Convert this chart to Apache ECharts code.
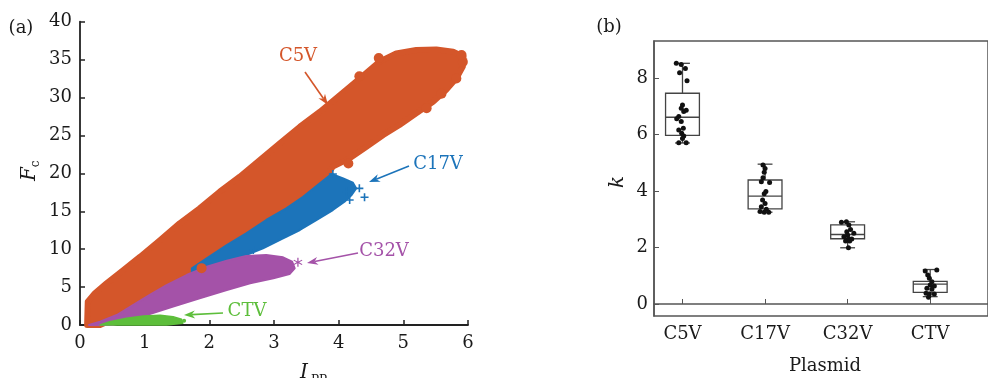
<!DOCTYPE html>
<html>
<head>
<meta charset="utf-8">
<script src="https://cdn.jsdelivr.net/npm/echarts@6/dist/echarts.min.js"></script>
<style>
  html, body { margin: 0; padding: 0; background: #fff; }
  #chart { width: 988px; height: 378px; }
</style>
</head>
<body>
<div id="chart"></div>
<script>
// ---- panel (a): outlines of the point clouds (I_PP, F_c)
const c5vX = [0.11, 0.12, 0.23, 0.41, 0.67, 0.93, 1.24, 1.54, 1.85, 2.16, 2.47, 2.78, 3.09, 3.40, 3.71, 4.02, 4.33, 4.63, 4.89, 5.20, 5.51, 5.77, 5.93, 5.92, 5.82, 5.66, 5.46, 5.20, 4.94, 4.69, 4.43, 4.17, 3.91, 3.71, 3.40, 2.88, 2.37, 1.96, 1.65, 1.34, 1.03, 0.72, 0.46, 0.31];
const c5vY = [0, 3.08, 4.18, 5.49, 7.25, 9.01, 11.21, 13.41, 15.38, 17.58, 19.56, 21.76, 23.96, 26.15, 28.13, 30.33, 32.53, 34.73, 35.82, 36.26, 36.35, 36.04, 35.38, 34.07, 32.53, 30.99, 29.45, 27.91, 26.37, 25.05, 23.52, 21.98, 20.88, 18.3, 16.3, 13.2, 10.2, 8.2, 6.4, 4.8, 3.30, 1.76, 0.57, 0];
const c5vOutX = [4.32, 4.15, 5.36, 5.59, 5.82, 5.92, 5.90, 1.88, 4.62];
const c5vOutY = [32.8, 21.3, 28.6, 30.5, 32.5, 34.7, 35.6, 7.5, 35.2];

const c17vX = [1.73, 1.96, 2.27, 2.57, 2.88, 3.19, 3.45, 3.71, 3.89, 4.07, 4.22, 4.27, 4.20, 4.09, 3.91, 3.66, 3.40, 3.14, 2.83, 2.57, 2.27, 1.96, 1.73];
const c17vY = [7.47, 8.79, 10.55, 12.09, 13.85, 15.38, 16.92, 18.68, 19.91, 19.34, 18.77, 18.02, 17.14, 16.26, 15.16, 13.85, 12.53, 11.43, 10.11, 9.23, 8.13, 7.03, 6.37];
const c17vOutX = [4.32, 4.40, 4.17, 3.91, 4.12, 2.68];
const c17vOutY = [18.02, 16.84, 16.48, 19.91, 17.58, 9.89];

const c32vX = [0.14, 0.31, 0.57, 0.82, 1.08, 1.34, 1.65, 1.96, 2.27, 2.57, 2.88, 3.14, 3.28, 3.32, 3.24, 2.99, 2.63, 2.27, 1.85, 1.44, 1.03, 0.72, 0.51];
const c32vY = [0, 0.44, 1.32, 2.64, 3.96, 5.27, 6.59, 7.69, 8.48, 9.10, 9.23, 8.92, 8.35, 7.47, 6.73, 6.15, 5.49, 4.62, 3.52, 2.42, 1.32, 0.44, 0];
const c32vOutX = [3.37];
const c32vOutY = [8.26];

const ctvX = [0.31, 0.46, 0.72, 0.98, 1.24, 1.44, 1.57, 1.59, 1.34];
const ctvY = [0, 0.44, 0.88, 1.19, 1.27, 1.10, 0.75, 0.22, 0];
const ctvOutX = [1.61];
const ctvOutY = [0.57];

// ---- panel (b): box statistics per plasmid [min, q1, median, q3, max]
const plasmids = ['C5V', 'C17V', 'C32V', 'CTV'];
const boxStats = [
  [5.70, 5.97, 6.61, 7.46, 8.52],
  [3.25, 3.37, 3.82, 4.39, 4.95],
  [1.99, 2.31, 2.46, 2.80, 2.91],
  [0.26, 0.41, 0.70, 0.80, 1.22]
];
// individual k values and their horizontal jitter (category units)
const kC5V = [8.52, 8.48, 8.34, 8.19, 7.90, 7.04, 6.93, 6.86, 6.81, 6.64, 6.56, 6.46, 6.22, 6.16, 6.04, 5.95, 5.86, 5.71, 5.71];
const jC5V = [-0.075, -0.015, 0.035, -0.035, 0.055, 0.0, -0.015, 0.045, 0.015, -0.045, -0.07, -0.015, 0.01, -0.045, -0.01, 0.015, 0.0, -0.045, 0.045];
const kC17V = [4.92, 4.80, 4.66, 4.47, 4.33, 4.30, 3.98, 3.90, 3.68, 3.56, 3.44, 3.35, 3.25, 3.25, 3.27];
const jC17V = [-0.025, 0.0, -0.01, -0.025, -0.045, 0.055, 0.01, -0.01, -0.03, 0.0, -0.045, 0.015, -0.01, 0.045, -0.06];
const kC32V = [2.89, 2.91, 2.80, 2.64, 2.56, 2.50, 2.44, 2.38, 2.32, 2.30, 2.23, 2.23, 1.99];
const jC32V = [-0.075, -0.015, 0.015, 0.035, -0.01, 0.075, 0.0, -0.045, 0.01, 0.05, -0.025, 0.025, 0.01];
const kCTV = [1.17, 1.20, 1.03, 0.91, 0.79, 0.67, 0.64, 0.56, 0.52, 0.38, 0.35, 0.35, 0.24];
const jCTV = [-0.06, 0.08, -0.03, -0.01, 0.02, 0.0, 0.05, -0.04, 0.02, -0.05, -0.01, 0.05, -0.02];

// colours
const ORANGE = '#D4562A';
const BLUE = '#1C74BA';
const PURPLE = '#A452A8';
const GREEN = '#5DBE3B';
const INK = '#1a1a1a';
const FONT = "'DejaVu Serif', serif";

const zip = (xs, ys) => xs.map((x, i) => [x, ys[i]]);

// filled outline of one point cloud; the thick round stroke gives the fuzzy edge
function cloud(xs, ys, color, edge) {
  return {
    type: 'custom',
    xAxisIndex: 0,
    yAxisIndex: 0,
    silent: true,
    data: zip(xs, ys),
    encode: { x: 0, y: 1 },
    renderItem: (params, api) => {
      if (params.dataIndex !== 0) return null;
      return {
        type: 'polygon',
        shape: { points: xs.map((x, i) => api.coord([x, ys[i]])) },
        style: { fill: color, stroke: color, lineWidth: edge, lineJoin: 'round' }
      };
    }
  };
}

function marks(xs, ys, color, symbol, size) {
  return {
    type: 'scatter',
    xAxisIndex: 0,
    yAxisIndex: 0,
    silent: true,
    symbol: symbol,
    symbolSize: size,
    itemStyle: { color: color, opacity: 1 },
    data: zip(xs, ys)
  };
}

const PLUS = 'path://M4,0h2v4h4v2h-4v4h-2v-4h-4v-2h4z';
const STAR = 'path://M4.4,0h1.2v3.6l3.1-1.8l0.6,1l-3.1,1.8l3.1,1.8l-0.6,1l-3.1,-1.8v3.6h-1.2v-3.6l-3.1,1.8l-0.6,-1l3.1,-1.8l-3.1,-1.8l0.6,-1l3.1,1.8z';

function arrow(x1, y1, x2, y2, color) {
  const a = Math.atan2(y2 - y1, x2 - x1);
  const L = 11, W = 4;
  const bx = x2 - L * Math.cos(a), by = y2 - L * Math.sin(a);
  const mx = x2 - 0.7 * L * Math.cos(a), my = y2 - 0.7 * L * Math.sin(a);
  return [
    { type: 'line', silent: true, shape: { x1: x1, y1: y1, x2: mx, y2: my }, style: { stroke: color, lineWidth: 1.6 } },
    { type: 'polygon', silent: true, shape: { points: [[x2, y2], [bx + W * Math.sin(a), by - W * Math.cos(a)], [mx, my], [bx - W * Math.sin(a), by + W * Math.cos(a)]] }, style: { fill: color } }
  ];
}

function label(text, x, y, color, extra) {
  return Object.assign({
    type: 'text', x: x, y: y, silent: true,
    style: { text: text, fill: color, font: '18px ' + FONT, align: 'center', verticalAlign: 'middle' }
  }, extra || {});
}

const boxSeries = {
  type: 'custom',
  xAxisIndex: 1,
  yAxisIndex: 1,
  silent: true,
  data: boxStats.map((s, i) => [i + 1].concat(s)),
  encode: { x: 0, y: [1, 2, 3, 4, 5] },
  renderItem: (params, api) => {
    const x = api.value(0);
    const hw = api.size([0.41, 0])[0] / 2;
    const cw = api.size([0.18, 0])[0] / 2;
    const p = [1, 2, 3, 4, 5].map(k => api.coord([x, api.value(k)]));
    const cx = p[0][0];
    const st = { stroke: '#444', lineWidth: 1.3, fill: null };
    return {
      type: 'group',
      children: [
        { type: 'line', shape: { x1: cx, y1: p[0][1], x2: cx, y2: p[1][1] }, style: st },
        { type: 'line', shape: { x1: cx, y1: p[3][1], x2: cx, y2: p[4][1] }, style: st },
        { type: 'line', shape: { x1: cx - cw, y1: p[0][1], x2: cx + cw, y2: p[0][1] }, style: st },
        { type: 'line', shape: { x1: cx - cw, y1: p[4][1], x2: cx + cw, y2: p[4][1] }, style: st },
        { type: 'rect', shape: { x: cx - hw, y: p[3][1], width: 2 * hw, height: p[1][1] - p[3][1] }, style: st },
        { type: 'line', shape: { x1: cx - hw, y1: p[2][1], x2: cx + hw, y2: p[2][1] }, style: st }
      ]
    };
  }
};

const kPoints = [];
[[kC5V, jC5V], [kC17V, jC17V], [kC32V, jC32V], [kCTV, jCTV]].forEach((g, i) => {
  g[0].forEach((k, j) => kPoints.push([i + 1 + g[1][j], k]));
});

const axisText = { fontSize: 18, fontFamily: FONT, color: INK };

const chart = echarts.init(document.getElementById('chart'), null, { renderer: 'canvas' });

chart.setOption({
  animation: false,
  backgroundColor: '#fff',
  grid: [
    { left: 80, right: 520, top: 21.7, bottom: 53 },
    { left: 654, right: -6, top: 41, bottom: 62, show: true, borderColor: '#555', borderWidth: 1.5, backgroundColor: 'transparent' }
  ],
  xAxis: [
    {
      gridIndex: 0, type: 'value', min: 0, max: 6, interval: 1,
      axisLine: { lineStyle: { color: '#222', width: 1.8 } },
      axisTick: { inside: true, length: 5, lineStyle: { color: '#222', width: 1.5 } },
      axisLabel: Object.assign({ margin: 9 }, axisText),
      splitLine: { show: false }
    },
    {
      gridIndex: 1, type: 'value', min: 0.655, max: 4.70,
      axisLine: { lineStyle: { color: '#555', width: 1.5 } },
      axisTick: { inside: true, length: 5, customValues: [1, 2, 3, 4], lineStyle: { color: '#555' } },
      axisLabel: Object.assign({ margin: 9, customValues: [1, 2, 3, 4], formatter: v => plasmids[Math.round(v) - 1] }, axisText),
      splitLine: { show: false }
    }
  ],
  yAxis: [
    {
      gridIndex: 0, type: 'value', min: 0, max: 40, interval: 5,
      axisLine: { show: true, lineStyle: { color: '#222', width: 1.8 } },
      axisTick: { show: true, inside: true, length: 5, lineStyle: { color: '#222', width: 1.5 } },
      axisLabel: Object.assign({ margin: 8 }, axisText),
      splitLine: { show: false }
    },
    {
      gridIndex: 1, type: 'value', min: -0.425, max: 9.31,
      axisLine: { show: true, lineStyle: { color: '#555', width: 1.5 } },
      axisTick: { show: true, inside: true, length: 5, customValues: [0, 2, 4, 6, 8], lineStyle: { color: '#555' } },
      axisLabel: Object.assign({ margin: 6, customValues: [0, 2, 4, 6, 8] }, axisText),
      splitLine: { show: false }
    }
  ],
  series: [
    cloud(c5vX, c5vY, ORANGE, 6),
    cloud(c17vX, c17vY, BLUE, 2),
    marks(c17vOutX, c17vOutY, BLUE, PLUS, 8),
    cloud(c32vX, c32vY, PURPLE, 2),
    marks(c32vOutX, c32vOutY, PURPLE, STAR, 9),
    cloud(ctvX, ctvY, GREEN, 1.5),
    marks(ctvOutX, ctvOutY, GREEN, 'circle', 4),
    marks(c5vOutX, c5vOutY, ORANGE, 'circle', 10),
    boxSeries,
    {
      type: 'scatter', xAxisIndex: 1, yAxisIndex: 1, silent: true,
      symbolSize: 5, itemStyle: { color: '#111', opacity: 1 },
      data: kPoints
    }
  ],
  graphic: [
    label('(a)', 21, 28, INK),
    label('(b)', 609, 27, INK),
    {
      type: 'group', x: 30, y: 170, rotation: Math.PI / 2, silent: true,
      children: [
        { type: 'text', x: -4, y: 0, style: { text: 'F', fill: INK, font: 'italic 20px ' + FONT, align: 'center', verticalAlign: 'middle' } },
        { type: 'text', x: 6, y: 6, style: { text: 'c', fill: INK, font: '12px ' + FONT, align: 'center', verticalAlign: 'middle' } }
      ]
    },
    { type: 'text', x: 304, y: 373, silent: true, style: { text: 'I', fill: INK, font: 'italic 20px ' + FONT, align: 'center', verticalAlign: 'middle' } },
    { type: 'text', x: 319, y: 381, silent: true, style: { text: 'PP', fill: INK, font: '12px ' + FONT, align: 'center', verticalAlign: 'middle' } },
    label('k', 618, 182, INK, { rotation: Math.PI / 2, style: { text: 'k', fill: INK, font: 'italic 20px ' + FONT, align: 'center', verticalAlign: 'middle' } }),
    label('Plasmid', 825, 366, INK),
    label('C5V', 298, 56, ORANGE),
    label('C17V', 438, 164, BLUE),
    label('C32V', 384, 251, PURPLE),
    label('CTV', 247, 311, GREEN)
  ]
    .concat(arrow(305, 72, 328, 105, ORANGE))
    .concat(arrow(409, 166, 369, 182, BLUE))
    .concat(arrow(358, 253, 307, 263, PURPLE))
    .concat(arrow(223, 313, 184, 315, GREEN))
});
</script>
</body>
</html>
